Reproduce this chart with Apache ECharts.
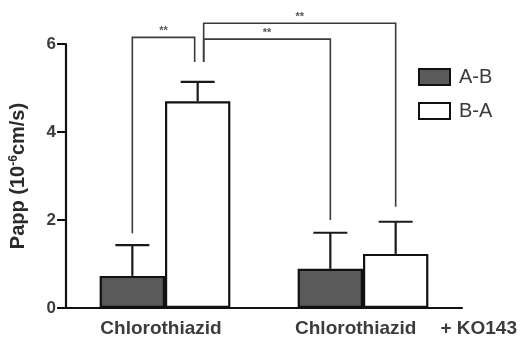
<!DOCTYPE html>
<html>
<head>
<meta charset="utf-8">
<script src="https://cdn.jsdelivr.net/npm/echarts@6/dist/echarts.min.js"></script>
<style>
  html, body { margin: 0; padding: 0; background: #fff; }
  #chart { width: 524px; height: 343px; }
</style>
</head>
<body>
<div id="chart"></div>
<script>
// Permeability (Papp, 10^-6 cm/s) of chlorothiazide, with and without KO143
const categories = ['Chlorothiazid', 'Chlorothiazid + KO143'];
const seriesNames = ['A-B', 'B-A'];
const abMean = [0.73, 0.89];
const abSd = [0.70, 0.82];
const baMean = [4.70, 1.23];
const baSd = [0.44, 0.73];
const yTicks = [0, 2, 4, 6];

// Significance brackets: [category, series] at each end, height of the bar,
// and where each leg stops
const bracketFrom = [[0, 0], [0, 1], [0, 1]];
const bracketTo = [[0, 1], [1, 0], [1, 1]];
const bracketTop = [6.15, 6.11, 6.47];
const bracketFromEnd = [1.70, 5.59, 5.59];
const bracketToEnd = [5.59, 2.00, 2.30];
const bracketMark = ['**', '**', '**'];

const BAR_FRACTION = 0.33;
const FONT = 'Liberation Sans, Arial, sans-serif';

const chart = echarts.init(document.getElementById('chart'));

function slotX(api, cat, ser) {
  const band = api.size([1, 0])[0];
  const cx = api.coord([cat, 0])[0];
  return cx + (ser === 0 ? -0.5 : 0.5) * band * BAR_FRACTION;
}

function errorSeries(name, means, sds, ser) {
  return {
    type: 'custom',
    name: name + ' SD',
    silent: true,
    z: 3,
    data: means.map((m, i) => [i, m, sds[i]]),
    renderItem: function (params, api) {
      const cat = api.value(0);
      const m = api.value(1);
      const sd = api.value(2);
      const x = slotX(api, cat, ser);
      const y0 = api.coord([cat, m])[1];
      const y1 = api.coord([cat, m + sd])[1];
      const half = 17;
      const style = { stroke: '#1a1a1a', lineWidth: 2.2 };
      return {
        type: 'group',
        children: [
          { type: 'line', shape: { x1: x, y1: y0, x2: x, y2: y1 }, style: style },
          { type: 'line', shape: { x1: x - half, y1: y1, x2: x + half, y2: y1 }, style: style }
        ]
      };
    }
  };
}

// small horizontal shifts so legs sharing one bar do not overlap
const legShiftFrom = [0, 6, 6];
const legShiftTo = [-3, 0, 0];

const bracketData = bracketTop.map((t, i) => [i, t]);

const labelText = { fontFamily: FONT, fontSize: 19, fontWeight: 'bold', color: '#3c3c3c' };

const option = {
  animation: false,
  backgroundColor: '#ffffff',
  grid: { left: 65, right: 62, top: 44, bottom: 35, containLabel: false },
  legend: {
    orient: 'vertical',
    left: 413,
    top: 62,
    itemWidth: 31,
    itemHeight: 16,
    itemGap: 14,
    icon: 'rect',
    data: seriesNames,
    textStyle: { fontFamily: FONT, fontSize: 20, color: '#3a3a3a', padding: [0, 0, 0, 4] }
  },
  xAxis: {
    type: 'category',
    data: categories,
    axisLine: { lineStyle: { color: '#111', width: 2.2 } },
    axisTick: { show: false },
    axisLabel: {
      margin: 11,
      interval: 0,
      formatter: function (v) {
        if (v.indexOf('+') >= 0) {
          const parts = v.split(' + ');
          return '{c|' + parts[0] + '}{b|+ ' + parts[1] + '}';
        }
        return '{a|' + v + '}';
      },
      rich: {
        a: Object.assign({ padding: [0, 8, 0, 0] }, labelText),
        c: Object.assign({ padding: [0, 0, 0, 86] }, labelText),
        b: Object.assign({ padding: [0, 0, 0, 24] }, labelText)
      }
    }
  },
  yAxis: {
    type: 'value',
    min: 0,
    max: 6,
    interval: 2,
    splitLine: { show: false },
    axisLine: { show: true, lineStyle: { color: '#111', width: 2.2 } },
    axisTick: { show: true, length: 9, lineStyle: { color: '#111', width: 2 } },
    axisLabel: {
      margin: 10,
      fontFamily: FONT,
      fontSize: 17,
      fontWeight: 'bold',
      color: '#3c3c3c',
      formatter: function (v) { return yTicks.indexOf(v) >= 0 ? String(v) : ''; }
    },
    name: '{t|Papp (10}{s|-6}{t|cm/s)}',
    nameLocation: 'middle',
    nameRotate: 90,
    nameGap: 38,
    nameTextStyle: {
      rich: {
        t: { fontFamily: FONT, fontSize: 20, fontWeight: 'bold', color: '#2a2a2a' },
        s: { fontFamily: FONT, fontSize: 12, fontWeight: 'bold', color: '#2a2a2a', verticalAlign: 'top', lineHeight: 12 }
      }
    }
  },
  series: [
    {
      name: 'A-B',
      type: 'bar',
      data: abMean,
      barWidth: (BAR_FRACTION * 100) + '%',
      barGap: '0%',
      itemStyle: { color: '#5a5a5a', borderColor: '#111', borderWidth: 2.2 }
    },
    {
      name: 'B-A',
      type: 'bar',
      data: baMean,
      barWidth: (BAR_FRACTION * 100) + '%',
      barGap: '0%',
      itemStyle: { color: '#ffffff', borderColor: '#111', borderWidth: 2.2 }
    },
    errorSeries('A-B', abMean, abSd, 0),
    errorSeries('B-A', baMean, baSd, 1),
    {
      type: 'custom',
      name: 'significance',
      silent: true,
      clip: false,
      z: 4,
      data: bracketData,
      renderItem: function (params, api) {
        const i = api.value(0);
        const top = api.value(1);
        const f = bracketFrom[i], t = bracketTo[i];
        const x1 = slotX(api, f[0], f[1]) + legShiftFrom[i];
        const x2 = slotX(api, t[0], t[1]) + legShiftTo[i];
        const yTop = api.coord([0, top])[1];
        const yA = api.coord([0, bracketFromEnd[i]])[1];
        const yB = api.coord([0, bracketToEnd[i]])[1];
        return {
          type: 'group',
          children: [
            {
              type: 'polyline',
              shape: { points: [[x1, yA], [x1, yTop], [x2, yTop], [x2, yB]] },
              style: { stroke: '#3a3a3a', lineWidth: 1.6, fill: null }
            },
            {
              type: 'text',
              x: (x1 + x2) / 2,
              y: yTop - 1,
              style: {
                text: bracketMark[i],
                fontFamily: FONT,
                fontSize: 11,
                fontWeight: 'bold',
                fill: '#555',
                align: 'center',
                verticalAlign: 'bottom'
              }
            }
          ]
        };
      }
    }
  ]
};

chart.setOption(option);
</script>
</body>
</html>
